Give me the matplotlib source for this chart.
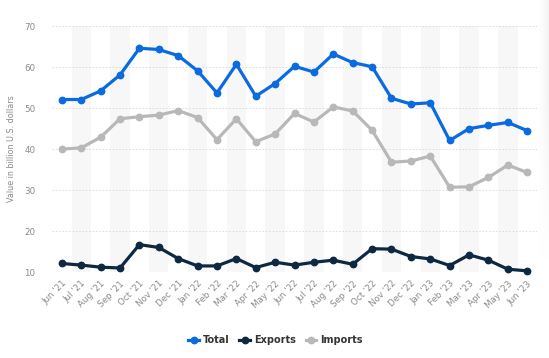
import numpy as np
import matplotlib
matplotlib.use("Agg")
import matplotlib.pyplot as plt
from matplotlib.lines import Line2D

# ------------------------------------------------------------------ #
# Data (billion U.S. dollars)                                          #
# ------------------------------------------------------------------ #
months = ["Jun '21", "Jul '21", "Aug '21", "Sep '21", "Oct '21", "Nov '21",
          "Dec '21", "Jan '22", "Feb '22", "Mar '22", "Apr '22", "May '22",
          "Jun '22", "Jul '22", "Aug '22", "Sep '22", "Oct '22", "Nov '22",
          "Dec '22", "Jan '23", "Feb '23", "Mar '23", "Apr '23", "May '23",
          "Jun '23"]

total = [52.1, 52.1, 54.2, 58.1, 64.6, 64.3, 62.8, 59.1, 53.7, 60.7, 52.9, 56.0,
         60.2, 58.8, 63.2, 61.1, 60.1, 52.4, 51.0, 51.3, 42.1, 45.0, 45.8, 46.5,
         44.5]

exports = [12.1, 11.7, 11.2, 11.0, 16.7, 16.0, 13.3, 11.5, 11.5, 13.3, 11.1, 12.4,
           11.7, 12.4, 12.9, 11.9, 15.7, 15.6, 13.8, 13.2, 11.6, 14.2, 12.9, 10.7,
           10.3]

imports = [40.0, 40.3, 42.9, 47.4, 47.9, 48.3, 49.4, 47.7, 42.3, 47.4, 41.8, 43.7,
           48.7, 46.6, 50.3, 49.3, 44.6, 36.8, 37.1, 38.3, 30.7, 30.8, 33.1, 36.1,
           34.3]

yticks = [10, 20, 30, 40, 50, 60, 70]

# ------------------------------------------------------------------ #
# Styling                                                              #
# ------------------------------------------------------------------ #
BLUE = "#0a6ae0"
NAVY = "#0e2841"
GREY = "#b8b8b8"
TICK = "#8a8a8a"

fig = plt.figure(figsize=(5.49, 3.58), dpi=100)
fig.patch.set_facecolor("white")

# faint panel shadow at the right edge, fading out towards the bottom
sh = fig.add_axes([0.982, 0.0, 0.018, 1.0], zorder=-1)
grad = np.linspace(0.0, 0.045, 30)[None, :]
vfade = np.clip(np.linspace(1.6, -0.6, 60), 0, 1)[:, None]
img = 1.0 - grad * vfade
sh.imshow(np.dstack([img, img, img]), aspect="auto", extent=(0, 1, 0, 1))
sh.axis("off")

ax = fig.add_axes([0.095, 0.240, 0.883, 0.687])

x = np.arange(len(months))

# alternating column shading
for i in x:
    if i % 2 == 1:
        ax.axvspan(i - 0.5, i + 0.5, color="#f7f7f7", zorder=0, lw=0)

for y in yticks:
    ax.axhline(y, color="#d9d9d9", lw=0.6, ls=(0, (2, 2)), zorder=1)

series = [(total, BLUE, "Total"), (exports, NAVY, "Exports"),
          (imports, GREY, "Imports")]
for vals, col, name in series:
    ax.plot(x, vals, color=col, lw=2.3, marker="o", ms=4.6,
            label=name, zorder=3, clip_on=False, solid_joinstyle="round")

ax.set_xlim(-0.5, len(months) - 0.5)
ax.set_ylim(10, 70)
ax.set_yticks(yticks)
ax.set_xticks(x)
ax.set_xticklabels(months, rotation=45, ha="right", rotation_mode="anchor")
ax.tick_params(axis="both", length=0, colors=TICK, labelsize=6.3)
ax.tick_params(axis="y", pad=12)
ax.tick_params(axis="x", pad=5)
ax.patch.set_alpha(0)
for s in ax.spines.values():
    s.set_visible(False)

ax.set_ylabel("Value in billion U.S. dollars", fontsize=5.8, color=TICK,
              labelpad=6)

handles = [Line2D([0], [0], color=c, lw=2.3, marker="o", ms=4.6)
           for _, c, _ in series]
leg = fig.legend(handles, [n for _, _, n in series], loc="center",
                 bbox_to_anchor=(0.502, 0.05), ncol=3, frameon=False,
                 fontsize=7, handlelength=1.1, handletextpad=0.4,
                 columnspacing=1.0)
for t in leg.get_texts():
    t.set_color("#333333")
    t.set_fontweight("bold")

fig.savefig("out.png", dpi=100)
